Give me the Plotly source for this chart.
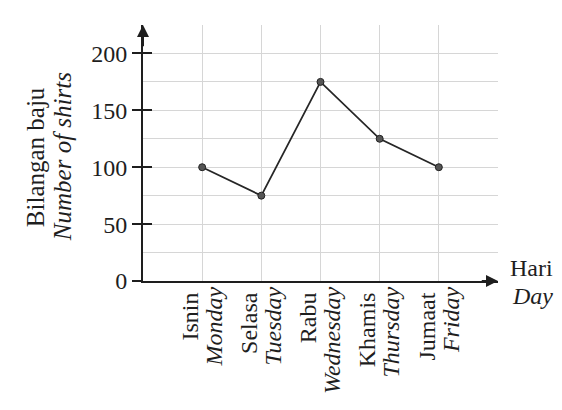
import plotly.graph_objects as go

days_malay = ["Isnin", "Selasa", "Rabu", "Khamis", "Jumaat"]
days_english = ["Monday", "Tuesday", "Wednesday", "Thursday", "Friday"]
shirts = [100, 75, 175, 125, 100]
y_ticks = [0, 50, 100, 150, 200]

x_pos = list(range(len(days_malay)))
english_text = [f"<i>{e}</i>" for e in days_english]

FONT = "Liberation Serif"
INK = "#1e1e1e"
GRID = "#d6d6d6"
FS = 24

fig = go.Figure()
fig.add_trace(go.Scatter(
    x=x_pos, y=shirts, mode="lines+markers",
    line=dict(color="#262626", width=1.8),
    marker=dict(size=7, color="#555555", line=dict(color="#222", width=1)),
    hoverinfo="skip", showlegend=False,
))
# helper traces so the overlaying axes are drawn
fig.add_trace(go.Scatter(x=[None], y=[None], yaxis="y2", showlegend=False, hoverinfo="skip"))
fig.add_trace(go.Scatter(x=[None], y=[None], xaxis="x2", showlegend=False, hoverinfo="skip"))

fig.update_layout(
    width=562, height=410,
    margin=dict(l=135, r=72, t=17, b=137),
    paper_bgcolor="white", plot_bgcolor="white",
    font=dict(family=FONT, color=INK, size=FS),
    xaxis=dict(
        range=[-1, 5], tickmode="array", tickvals=x_pos, ticktext=days_malay,
        tickangle=-90, ticks="", ticklabelshift=-12,
        showgrid=True, gridcolor=GRID, gridwidth=1,
        minor=dict(tickmode="array", tickvals=[5], showgrid=True, gridcolor=GRID, ticks=""),
        showline=True, linecolor=INK, linewidth=2, zeroline=False,
        tickfont=dict(family=FONT, size=FS, color=INK),
    ),
    xaxis2=dict(
        overlaying="x", matches="x", side="bottom", tickmode="array",
        tickvals=x_pos, ticktext=english_text, tickangle=-90, ticks="",
        ticklabelshift=12, showgrid=False, showline=False, zeroline=False,
        tickfont=dict(family=FONT, size=FS, color=INK),
    ),
    yaxis=dict(
        range=[0, 225], tickmode="array", tickvals=y_ticks,
        ticks="outside", ticklen=9, tickwidth=2, tickcolor=INK,
        showgrid=True, gridcolor=GRID, gridwidth=1,
        minor=dict(tick0=0, dtick=25, showgrid=True, gridcolor=GRID, ticks=""),
        showline=True, linecolor=INK, linewidth=2, zeroline=False,
        tickfont=dict(family=FONT, size=FS, color=INK),
    ),
    yaxis2=dict(
        overlaying="y", matches="y", side="left", tickmode="array", tickvals=y_ticks,
        ticks="inside", ticklen=9, tickwidth=2, tickcolor=INK,
        showticklabels=False, showgrid=False, showline=False, zeroline=False,
    ),
    annotations=[
        dict(text="Bilangan baju", textangle=-90,
             xref="paper", yref="paper", x=-0.304, y=0.484, showarrow=False,
             xanchor="center", yanchor="middle",
             font=dict(family=FONT, size=25, color=INK)),
        dict(text="<i>Number of shirts</i>", textangle=-90,
             xref="paper", yref="paper", x=-0.228, y=0.484, showarrow=False,
             xanchor="center", yanchor="middle",
             font=dict(family=FONT, size=25, color=INK)),
        dict(text="Hari", xref="paper", yref="paper",
             x=1.028, y=0.05, xanchor="left", yanchor="middle",
             showarrow=False, font=dict(family=FONT, size=24, color=INK)),
        dict(text="<i>Day</i>", xref="paper", yref="paper",
             x=1.034, y=-0.059, xanchor="left", yanchor="middle",
             showarrow=False, font=dict(family=FONT, size=24, color=INK)),
        dict(x=-1, y=225, ax=-1, ay=205, xref="x", yref="y", axref="x", ayref="y",
             showarrow=True, arrowhead=2, arrowsize=1.2, arrowwidth=2, arrowcolor=INK, text=""),
        dict(x=5, y=0, ax=4.7, ay=0, xref="x", yref="y", axref="x", ayref="y",
             showarrow=True, arrowhead=2, arrowsize=1.2, arrowwidth=2, arrowcolor=INK, text=""),
    ],
)

fig.write_html("out.html")
